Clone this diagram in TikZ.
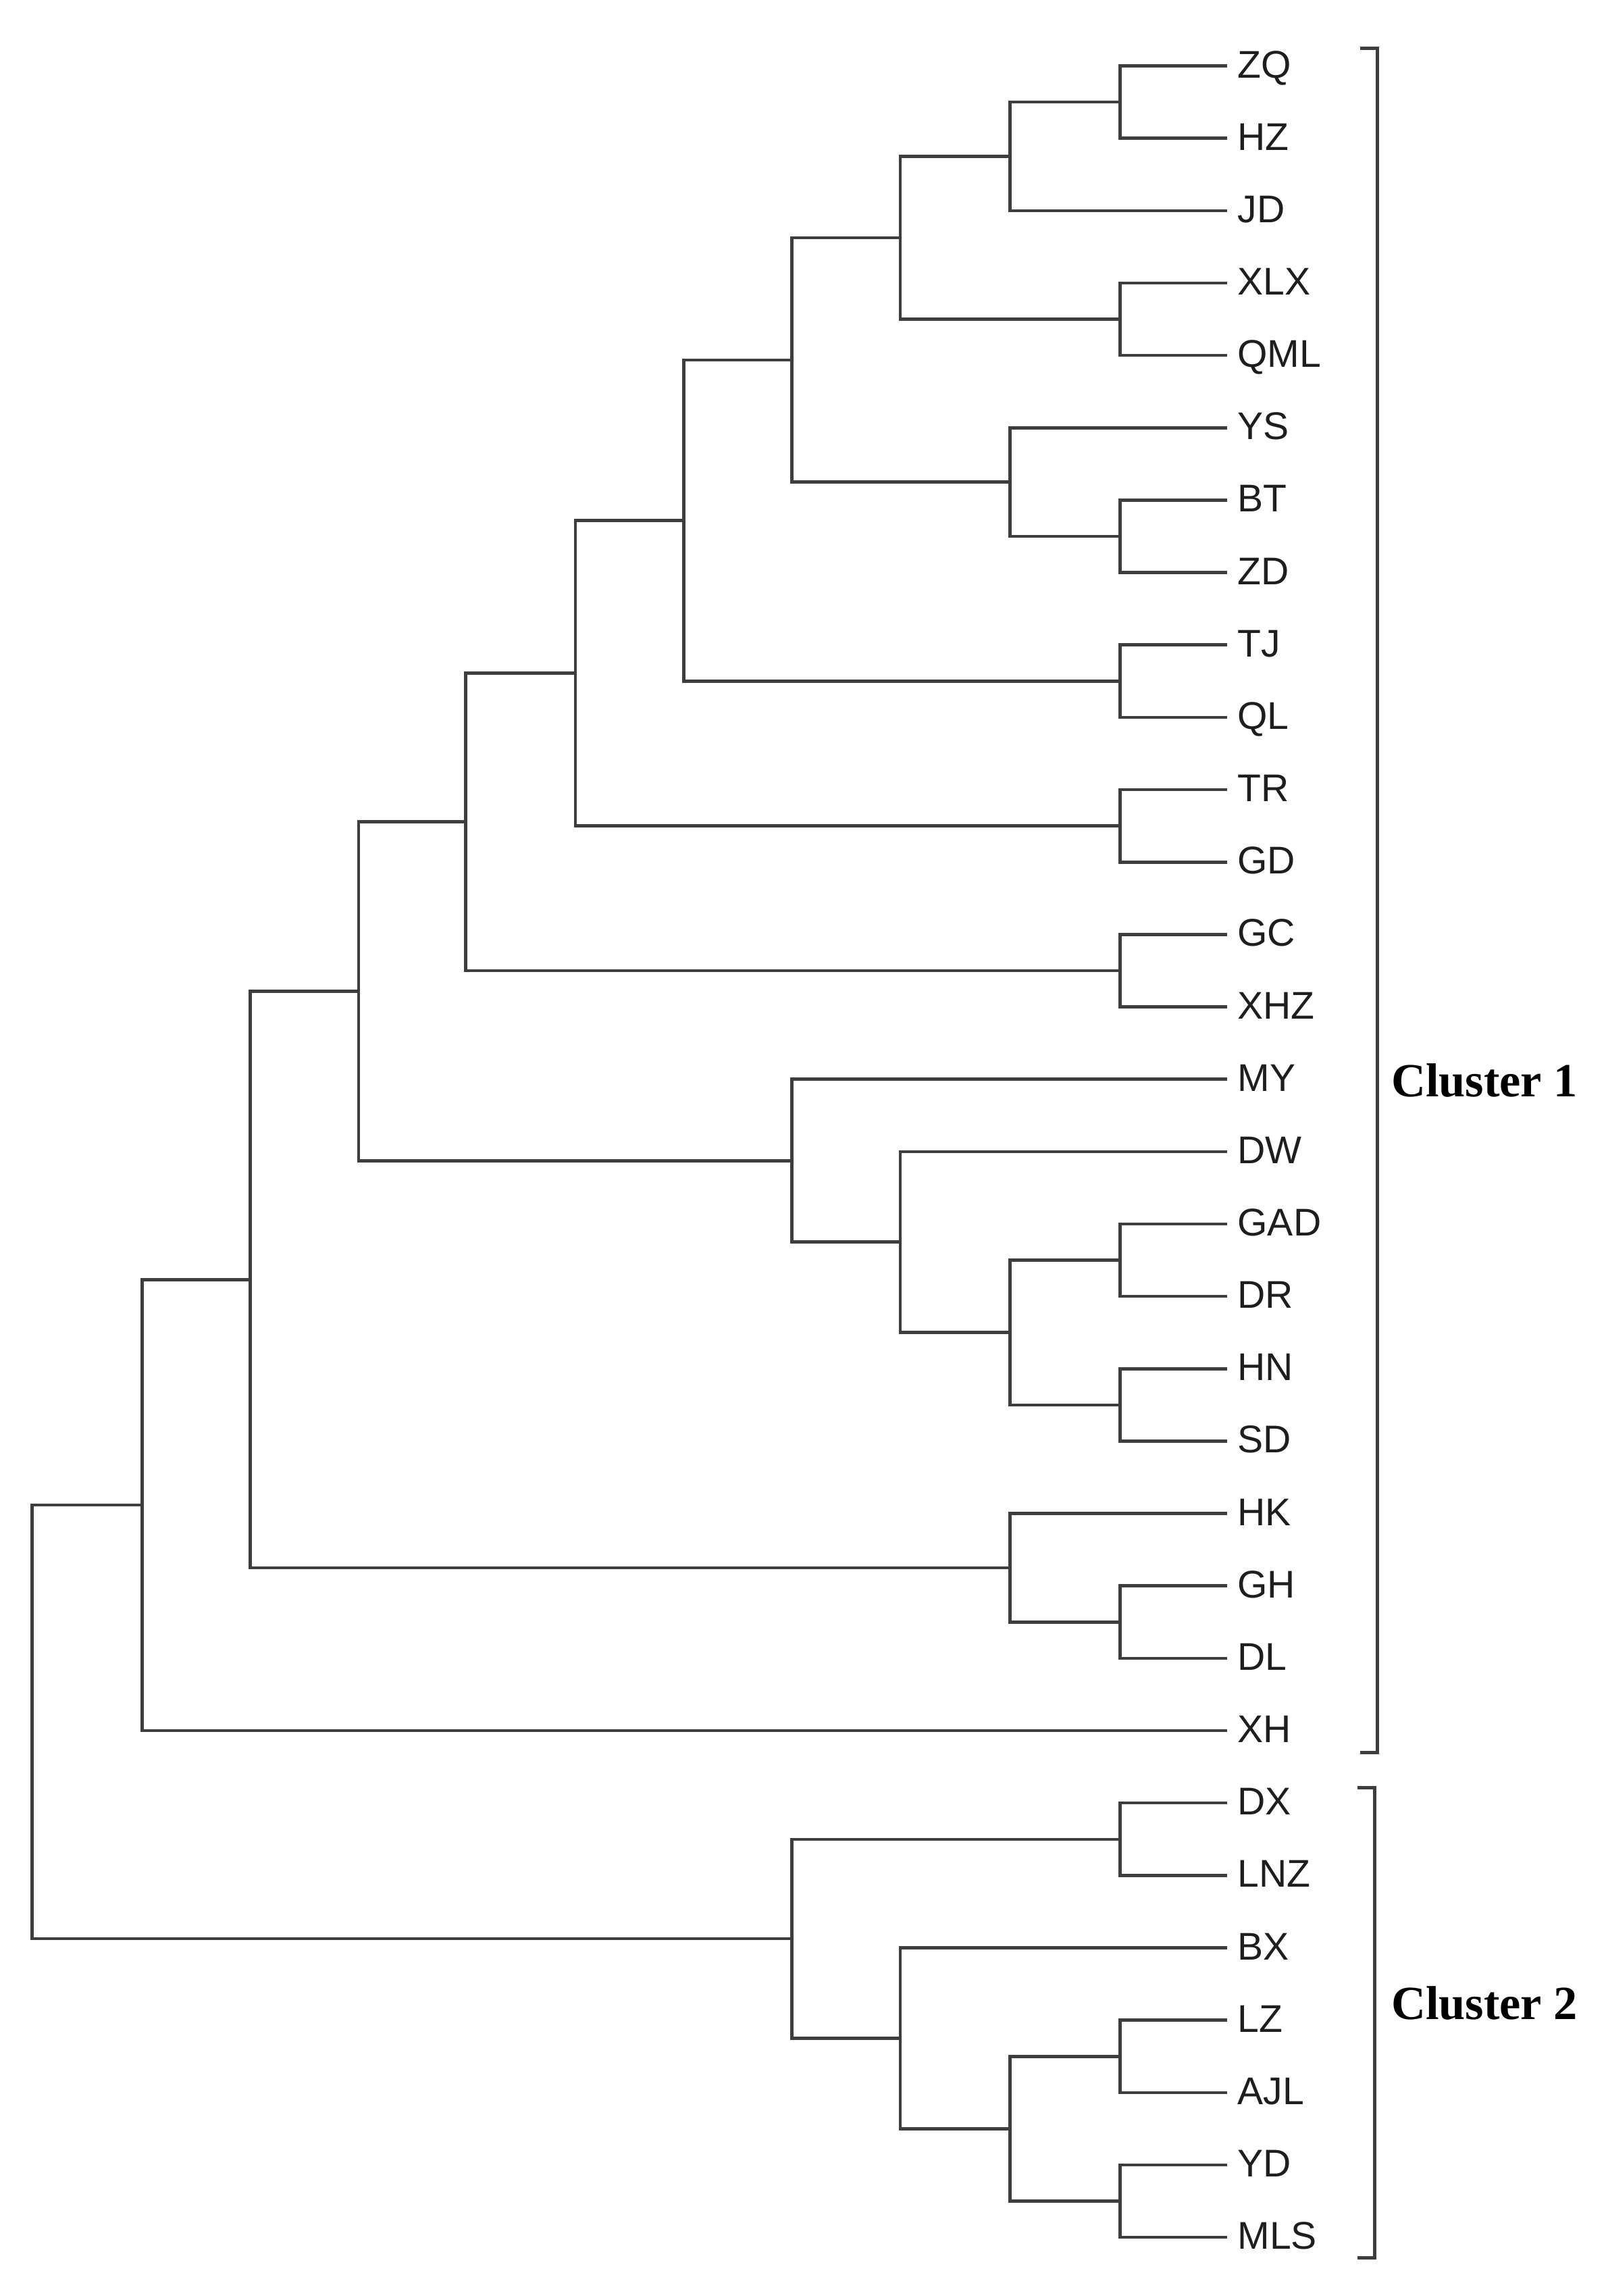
\documentclass[tikz,border=0pt]{standalone}
\usepackage{fontspec}
\setmainfont{Liberation Serif}
\newfontfamily\labfont{Liberation Sans}
\definecolor{linec}{HTML}{3E3E3E}
\definecolor{textc}{HTML}{1E1E1E}
\begin{document}
\begin{tikzpicture}[x=0.02cm,y=-0.02cm,
  br/.style={draw=linec,line width=1.2pt,line join=miter},
  brk/.style={draw=linec,line width=1.3pt,line join=miter},
  lab/.style={anchor=base west,inner sep=0pt,yshift=-4.6pt,text=textc,font=\labfont\fontsize{15}{15}\selectfont},
  clab/.style={anchor=west,inner sep=0pt,text=black,font=\bfseries\fontsize{18.5}{18.5}\selectfont}]
\useasboundingbox (0,0) rectangle (1097,1568);
% leaves
\foreach \n [count=\i from 0] in {ZQ,HZ,JD,XLX,QML,YS,BT,ZD,TJ,QL,TR,GD,GC,XHZ,MY,DW,GAD,DR,HN,SD,HK,GH,DL,XH,DX,LNZ,BX,LZ,AJL,YD,MLS}{
  \coordinate (\n) at (838,{45+49.43*\i});
  \node[lab] (t\n) at (845,{45+49.43*\i}) {\n};
}
% internal nodes
\coordinate (nZH) at (765,69.72);
\coordinate (nJ) at (690,106.79);
\coordinate (nXQ) at (765,218.0);
\coordinate (na) at (615,162.40);
\coordinate (nBZ) at (765,366.30);
\coordinate (nY) at (690,329.22);
\coordinate (nb) at (541,245.81);
\coordinate (nTQ) at (765,465.16);
\coordinate (nc) at (467,355.48);
\coordinate (nTG) at (765,564.02);
\coordinate (nd) at (393,459.75);
\coordinate (nGX) at (765,662.88);
\coordinate (ne) at (318,561.31);
\coordinate (nGD) at (765,860.60);
\coordinate (nHS) at (765,959.46);
\coordinate (nf) at (690,910.03);
\coordinate (ng) at (615,848.24);
\coordinate (nh) at (541,792.63);
\coordinate (ni) at (245,676.97);
\coordinate (nGL) at (765,1107.75);
\coordinate (nj) at (690,1070.67);
\coordinate (nk) at (171,873.82);
\coordinate (nl) at (97,1027.86);
\coordinate (nDL) at (765,1256.04);
\coordinate (nLA) at (765,1404.33);
\coordinate (nYM) at (765,1503.19);
\coordinate (nm) at (690,1453.76);
\coordinate (nn) at (615,1391.97);
\coordinate (no) at (541,1324.0);
\coordinate (root) at (22,1175.93);
% connectors
\draw[br] (nZH) |- (ZQ);  \draw[br] (nZH) |- (HZ);
\draw[br] (nJ) |- (nZH);  \draw[br] (nJ) |- (JD);
\draw[br] (nXQ) |- (XLX); \draw[br] (nXQ) |- (QML);
\draw[br] (na) |- (nJ);   \draw[br] (na) |- (nXQ);
\draw[br] (nBZ) |- (BT);  \draw[br] (nBZ) |- (ZD);
\draw[br] (nY) |- (YS);   \draw[br] (nY) |- (nBZ);
\draw[br] (nb) |- (na);   \draw[br] (nb) |- (nY);
\draw[br] (nTQ) |- (TJ);  \draw[br] (nTQ) |- (QL);
\draw[br] (nc) |- (nb);   \draw[br] (nc) |- (nTQ);
\draw[br] (nTG) |- (TR);  \draw[br] (nTG) |- (GD);
\draw[br] (nd) |- (nc);   \draw[br] (nd) |- (nTG);
\draw[br] (nGX) |- (GC);  \draw[br] (nGX) |- (XHZ);
\draw[br] (ne) |- (nd);   \draw[br] (ne) |- (nGX);
\draw[br] (nGD) |- (GAD); \draw[br] (nGD) |- (DR);
\draw[br] (nHS) |- (HN);  \draw[br] (nHS) |- (SD);
\draw[br] (nf) |- (nGD);  \draw[br] (nf) |- (nHS);
\draw[br] (ng) |- (DW);   \draw[br] (ng) |- (nf);
\draw[br] (nh) |- (MY);   \draw[br] (nh) |- (ng);
\draw[br] (ni) |- (ne);   \draw[br] (ni) |- (nh);
\draw[br] (nGL) |- (GH);  \draw[br] (nGL) |- (DL);
\draw[br] (nj) |- (HK);   \draw[br] (nj) |- (nGL);
\draw[br] (nk) |- (ni);   \draw[br] (nk) |- (nj);
\draw[br] (nl) |- (nk);   \draw[br] (nl) |- (XH);
\draw[br] (nDL) |- (DX);  \draw[br] (nDL) |- (LNZ);
\draw[br] (nLA) |- (LZ);  \draw[br] (nLA) |- (AJL);
\draw[br] (nYM) |- (YD);  \draw[br] (nYM) |- (MLS);
\draw[br] (nm) |- (nLA);  \draw[br] (nm) |- (nYM);
\draw[br] (nn) |- (BX);   \draw[br] (nn) |- (nm);
\draw[br] (no) |- (nDL);  \draw[br] (no) |- (nn);
\draw[br] (root) |- (nl); \draw[br] (root) |- (no);
% brackets
\draw[brk] (929,33) -- (941,33) -- (941,1197) -- (929,1197);
\draw[brk] (927,1221) -- (939,1221) -- (939,1542) -- (927,1542);
\node[clab] (c1) at (950,738) {Cluster 1};
\node[clab] (c2) at (950,1368) {Cluster 2};
\end{tikzpicture}
\end{document}
